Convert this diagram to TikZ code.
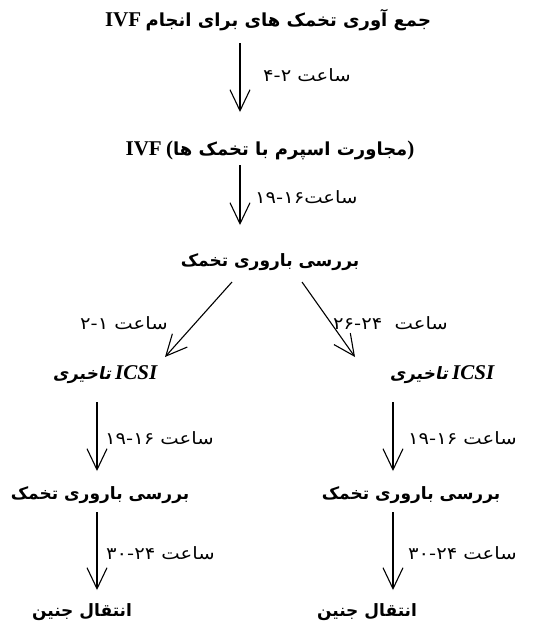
\documentclass[tikz,border=0pt]{standalone}
\usepackage{fontspec}
\setmainfont{Liberation Serif}
\newfontfamily\fa[Script=Arabic]{DejaVu Sans}
\newfontfamily\falab[Script=Arabic,FakeStretch=1.15]{DejaVu Sans}
\newfontfamily\fasl[Script=Arabic,FakeSlant=0.2]{DejaVu Sans}
\TeXXeTstate=1
\usetikzlibrary{arrows.meta}
\tikzset{
  arr/.style={line width=1.1pt,-{Straight Barb[length=21pt,width=20pt,line width=1.1pt]}},
  big/.style={inner sep=0pt,font=\fontsize{17}{20}\selectfont\bfseries},
  bigger/.style={big,font=\fontsize{18}{21}\selectfont\bfseries},
  lab/.style={inner sep=0pt,anchor=west,font=\fontsize{17}{20}\selectfont},
}
\newcommand\lat[1]{{\rmfamily\bfseries\fontsize{21}{22}\selectfont #1}}
\newcommand\latit[1]{{\rmfamily\bfseries\itshape\fontsize{21}{22}\selectfont #1}}
\begin{document}
\begin{tikzpicture}[x=1pt,y=-1pt]
\useasboundingbox (0,0) rectangle (536,625);
\coordinate (cm) at (240,0);
\coordinate (cl) at (97,0);
\coordinate (cr) at (393,0);
% texts
\node[bigger] (t1) at (268,20) {\lat{IVF} {\fa\beginR جمع آوری تخمک های برای انجام\endR}};
\node[bigger] (t2) at (270,150) {\lat{IVF} \lat{(}{\fa\beginR مجاورت اسپرم با تخمک ها\endR}\lat{)}};
\node[big] (t3) at (270,262) {\fa\beginR بررسی باروری تخمک\endR};
\node[big] (il) at (105,375) {{\fasl\bfseries تاخیری} \latit{ICSI}};
\node[big] (ir) at (442,375) {{\fasl\bfseries تاخیری} \latit{ICSI}};
\node[big] (bl) at (100,495) {\fa\beginR بررسی باروری تخمک\endR};
\node[big] (br) at (411,495) {\fa\beginR بررسی باروری تخمک\endR};
\node[big] (el) at (82,612) {\fa\beginR انتقال جنین\endR};
\node[big] (er) at (367,612) {\fa\beginR انتقال جنین\endR};
% labels
\node[lab] (l1) at (263,75) {\falab\beginR ساعت\ \beginL ۴-۲\endL\endR};
\node[lab] (l2) at (255,197) {\falab\beginR ساعت\beginL ۱۹-۱۶\endL\endR};
\node[lab] (l3) at (80,323) {\falab\beginR ساعت\ \beginL ۲-۱\endL\endR};
\node[lab] (l4) at (333,323) {\falab\beginR ساعت\ \ \beginL ۲۶-۲۴\endL\endR};
\node[lab] (l5) at (105,438) {\falab\beginR ساعت\ \beginL ۱۹-۱۶\endL\endR};
\node[lab] (l6) at (408,438) {\falab\beginR ساعت\ \beginL ۱۹-۱۶\endL\endR};
\node[lab] (l7) at (106,553) {\falab\beginR ساعت\ \beginL ۳۰-۲۴\endL\endR};
\node[lab] (l8) at (408,553) {\falab\beginR ساعت\ \beginL ۳۰-۲۴\endL\endR};
% arrows
\draw[arr] ([yshift=-23pt]t1.center -| cm) -- ([yshift=38pt]t2.center -| cm);
\draw[arr] ([yshift=-15pt]t2.center -| cm) -- ([yshift=37pt]t3.center -| cm);
\draw[arr] ([xshift=-38pt,yshift=-20pt]t3.center) -- ([xshift=60pt,yshift=18pt]il.center);
\draw[arr] ([xshift=32pt,yshift=-20pt]t3.center) -- ([xshift=-87pt,yshift=18pt]ir.center);
\draw[arr] ([yshift=-27pt]il.center -| cl) -- ([yshift=24pt]bl.center -| cl);
\draw[arr] ([yshift=-27pt]ir.center -| cr) -- ([yshift=24pt]br.center -| cr);
\draw[arr] ([yshift=-17pt]bl.center -| cl) -- ([yshift=22pt]el.center -| cl);
\draw[arr] ([yshift=-17pt]br.center -| cr) -- ([yshift=22pt]er.center -| cr);
\end{tikzpicture}
\end{document}
